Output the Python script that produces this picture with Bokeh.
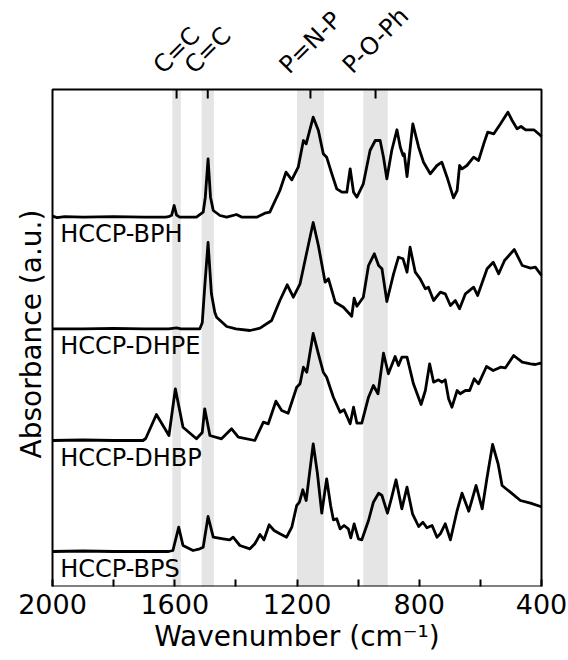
import math
import numpy as np
from bokeh.plotting import figure
from bokeh.models import Range1d, FixedTicker, ColumnDataSource, Title
from bokeh.core.properties import value
from bokeh.embed import file_html
from bokeh.resources import INLINE

# ---------------- data ----------------
names = ["HCCP-BPH", "HCCP-DHPE", "HCCP-DHBP", "HCCP-BPS"]
offsets = [3.693, 2.577, 1.46, 0.35]

bph_w = [2000, 1985, 1960, 1900, 1800, 1700, 1630, 1620, 1610, 1602, 1594, 1584, 1529, 1507, 1500,
         1491, 1483, 1474, 1452, 1430, 1398, 1380, 1332, 1305, 1289, 1256, 1236, 1217, 1196, 1179,
         1170, 1147, 1130, 1114, 1103, 1086, 1070, 1053, 1037, 1026, 1015, 1004, 983, 961, 944,
         928, 917, 906, 890, 873, 862, 853, 849, 840, 821, 802, 786, 764, 742, 726,
         709, 688, 676, 668, 660, 644, 622, 606, 589, 576, 556, 534, 510, 496, 480,
         467, 452, 425, 403, 400]
bph_a = [0.01, -0.005, 0.005, 0.0, 0.005, 0.0, 0.0, 0.005, 0.02, 0.117, 0.02, 0.0, 0.0, 0.05, 0.2,
         0.584, 0.2, 0.067, 0.017, 0.0, 0.027, 0.0, 0.0, 0.04, 0.05, 0.267, 0.45, 0.374, 0.5, 0.767,
         0.734, 1.0, 0.867, 0.634, 0.6, 0.434, 0.284, 0.25, 0.25, 0.484, 0.25, 0.2, 0.334, 0.667, 0.767,
         0.767, 0.6, 0.384, 0.667, 0.874, 0.7, 0.617, 0.634, 0.407, 0.934, 0.7, 0.55, 0.434, 0.517, 0.55,
         0.4, 0.194, 0.267, 0.517, 0.484, 0.517, 0.6, 0.567, 0.734, 0.85, 0.834, 0.934, 1.05, 0.967, 0.884,
         0.907, 0.874, 0.874, 0.817, 0.807]

dhpe_w = [2000, 1900, 1800, 1700, 1620, 1594, 1580, 1518, 1510, 1502, 1491, 1480, 1469, 1463, 1430,
          1400, 1354, 1321, 1283, 1256, 1232, 1212, 1190, 1168, 1147, 1130, 1108, 1097, 1075, 1048,
          1021, 1013, 1004, 983, 966, 947, 933, 922, 906, 884, 868, 853, 840, 830, 813,
          797, 780, 770, 753, 731, 715, 698, 682, 668, 649, 622, 609, 578, 558, 540,
          521, 489, 463, 436, 420, 400]
dhpe_a = [0.0, 0.0, 0.005, 0.0, 0.0, 0.01, 0.0, 0.0, 0.06, 0.416, 0.863, 0.35, 0.166, 0.116, 0.023,
          0.0, -0.017, 0.006, 0.083, 0.283, 0.44, 0.316, 0.45, 0.766, 1.063, 0.833, 0.466, 0.5, 0.266, 0.216,
          0.126, 0.306, 0.226, 0.316, 0.633, 0.75, 0.633, 0.6, 0.273, 0.55, 0.716, 0.7, 0.566, 0.816, 0.566,
          0.5, 0.4, 0.416, 0.283, 0.366, 0.35, 0.233, 0.283, 0.2, 0.35, 0.416, 0.333, 0.6, 0.666, 0.55,
          0.683, 0.793, 0.633, 0.606, 0.616, 0.533]

dhbp_w = [2000, 1900, 1800, 1704, 1695, 1660, 1619, 1598, 1573, 1529, 1510, 1502, 1485, 1447, 1414,
          1392, 1338, 1310, 1294, 1269, 1250, 1229, 1201, 1190, 1179, 1168, 1147, 1130, 1114, 1103,
          1081, 1059, 1046, 1026, 1015, 1004, 988, 966, 950, 935, 917, 901, 879, 868, 857,
          840, 819, 794, 780, 766, 753, 737, 726, 715, 704, 693, 676, 666, 649, 635,
          620, 606, 580, 558, 534, 518, 491, 463, 436, 420, 403, 400]
dhbp_a = [0.0, 0.005, 0.0, 0.0, 0.02, 0.26, 0.05, 0.517, 0.133, 0.017, 0.08, 0.317, 0.05, 0.017, 0.117,
          0.033, 0.0, 0.183, 0.167, 0.393, 0.3, 0.273, 0.533, 0.567, 0.733, 0.683, 1.07, 0.867, 0.683, 0.633,
          0.433, 0.283, 0.307, 0.167, 0.333, 0.173, 0.173, 0.433, 0.55, 0.467, 0.873, 0.667, 0.84, 0.75, 0.833,
          0.833, 0.567, 0.36, 0.5, 0.767, 0.583, 0.607, 0.583, 0.607, 0.417, 0.333, 0.5, 0.467, 0.5, 0.5,
          0.617, 0.567, 0.74, 0.7, 0.733, 0.727, 0.85, 0.783, 0.767, 0.76, 0.773, 0.77]

bps_w = [2000, 1900, 1800, 1700, 1620, 1606, 1587, 1573, 1540, 1518, 1507, 1491, 1474, 1442, 1420,
         1409, 1387, 1354, 1338, 1321, 1308, 1291, 1275, 1256, 1234, 1217, 1201, 1192, 1181, 1170,
         1147, 1133, 1119, 1103, 1090, 1081, 1070, 1059, 1046, 1032, 1024, 1013, 999, 988, 966,
         950, 933, 922, 904, 890, 876, 857, 840, 822, 802, 788, 775, 758, 742, 731,
         715, 698, 676, 660, 638, 614, 594, 578, 560, 542, 529, 502, 469, 436, 403, 400]
bps_a = [0.0, 0.005, 0.0, 0.0, 0.0, 0.01, 0.243, 0.06, 0.01, 0.027, 0.043, 0.35, 0.143, 0.127, 0.117,
         0.143, 0.06, 0.027, 0.077, 0.17, 0.117, 0.267, 0.21, 0.177, 0.143, 0.243, 0.46, 0.493, 0.617, 0.51,
         1.077, 0.777, 0.383, 0.727, 0.46, 0.317, 0.327, 0.227, 0.26, 0.227, 0.137, 0.277, 0.127, 0.117, 0.31,
         0.493, 0.583, 0.56, 0.383, 0.543, 0.717, 0.427, 0.643, 0.377, 0.25, 0.293, 0.237, 0.26, 0.143, 0.177,
         0.277, 0.117, 0.41, 0.583, 0.403, 0.66, 0.427, 0.743, 1.07, 0.877, 0.66, 0.593, 0.51, 0.483, 0.45, 0.45]

spectra_w = [bph_w, dhpe_w, dhbp_w, bps_w]
spectra_a = [bph_a, dhpe_a, dhbp_a, bps_a]

band_hi = [1608, 1512, 1200, 983]
band_lo = [1580, 1472, 1112, 903]
band_labels = ["C=C", "C=C", "P=N-P", "P-O-Ph"]

x_major = [2000, 1600, 1200, 800, 400]
x_minor = [1800, 1400, 1000, 600]

# ---------------- layout / style ----------------
FONT = "DejaVu Sans"
X_HI, X_LO = max(x_major), min(x_major)
Y_TOP = 4.97                      # top of the boxed plot area (data units)
PX_X = 488.0 / (X_HI - X_LO)      # pixels per wavenumber inside the box
PX_Y = 100.0                      # pixels per absorbance unit
PAD = 2                           # frame pixels outside the box on left/right
HEAD = 89                         # pixels above the box (rotated band labels)
label_rise_px = [39, 39, 47, 49]  # rotated band-label centres above the box

x_range = Range1d(X_HI + PAD / PX_X, X_LO - PAD / PX_X)
y_range = Range1d(0, Y_TOP + HEAD / PX_Y)

p = figure(width=567, height=660, x_range=x_range, y_range=y_range,
           output_backend="svg", toolbar_location=None, y_axis_location=None,
           min_border_left=50, min_border_right=24, min_border_top=0, min_border_bottom=74)
p.grid.visible = False
p.outline_line_color = None
p.background_fill_color = "white"
p.border_fill_color = "white"

# shaded bands
p.quad(left=band_hi, right=band_lo, bottom=0, top=Y_TOP, fill_color="#e5e5e5", line_color=None)

# spectra
for w, a, off in zip(spectra_w, spectra_a, offsets):
    p.line(w, np.array(a) + off, line_color="black", line_width=2.8, line_join="round")

# box around the plot area
p.quad(left=[X_HI], right=[X_LO], bottom=[0], top=[Y_TOP], fill_color=None,
       line_color="black", line_width=2)

# top ticks at band centres
centers = [(h + l) / 2 for h, l in zip(band_hi, band_lo)]
p.segment(x0=centers, y0=Y_TOP, x1=centers, y1=Y_TOP - 9 / PX_Y, line_color="black", line_width=2)

# rotated band labels
p.text(x=centers, y=[Y_TOP + r / PX_Y for r in label_rise_px], text=band_labels,
       angle=math.pi / 4, text_align="center", text_baseline="middle",
       text_font=value(FONT), text_font_size=value("24px"), text_color="black")

# curve names
src = ColumnDataSource(dict(x=[X_HI - 25] * 4, y=[o - 0.17 for o in offsets], t=names))
p.text(x="x", y="y", text="t", source=src, text_font=value(FONT), text_font_size=value("24px"),
       text_align="left", text_baseline="middle", text_color="black")

# bottom axis
xa = p.xaxis[0]
xa.ticker = FixedTicker(ticks=x_major, minor_ticks=x_minor)
xa.axis_line_color = None
xa.major_tick_in = 7
xa.major_tick_out = 0
xa.minor_tick_in = 7
xa.minor_tick_out = 0
xa.major_tick_line_width = 2
xa.minor_tick_line_width = 2
xa.major_label_text_font = FONT
xa.major_label_text_font_size = "27px"
xa.major_label_text_color = "black"
xa.major_label_standoff = 7
xa.axis_label = "Wavenumber (cm\u207b\u00b9)"
xa.axis_label_text_font = FONT
xa.axis_label_text_font_size = "28px"
xa.axis_label_text_font_style = "normal"
xa.axis_label_text_color = "black"
xa.axis_label_standoff = 3

# y-axis title, placed along the boxed area (starts 128 px above the box bottom)
p.add_layout(Title(text="Absorbance (a.u.)", align="left", offset=128,
                   text_font=FONT, text_font_size="28px", text_font_style="normal",
                   text_color="black", standoff=6), "left")

open("out.html", "w").write(file_html(p, INLINE))
